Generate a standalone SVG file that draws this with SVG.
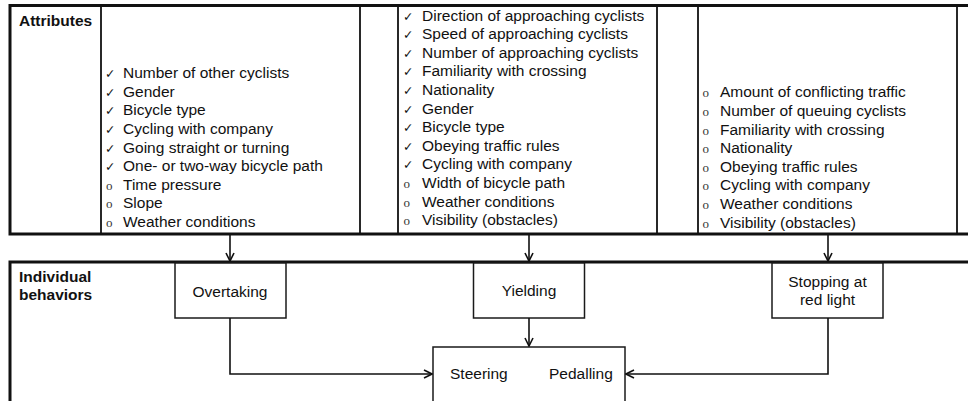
<svg xmlns="http://www.w3.org/2000/svg" width="968" height="401" viewBox="0 0 968 401">
  <style>
    .panel { fill: #ffffff; stroke: #111111; stroke-width: 3; }
    .div { stroke: #111111; stroke-width: 1.8; fill: none; }
    .box { fill: #ffffff; stroke: #1a1a1a; stroke-width: 1.5; }
    .t { font-family: "Liberation Sans", Arial, sans-serif; font-size: 15.5px; fill: #111111; }
    .b { font-family: "Liberation Sans", Arial, sans-serif; font-size: 15.5px; font-weight: bold; fill: #111111; }
    .mid { text-anchor: middle; }
    .chk { font-family: "DejaVu Sans", sans-serif; font-size: 12.5px; fill: #111111; }
    .dot { font-family: "Liberation Serif", "Times New Roman", serif; font-size: 13px; fill: #333333; }
    .conn { fill: none; stroke: #111111; stroke-width: 1.6; }
  </style>
  <defs>
    <marker id="arr" markerWidth="10" markerHeight="10" refX="9" refY="5" orient="auto" markerUnits="userSpaceOnUse">
      <path d="M1,1 L9,5 L1,9" fill="none" stroke="#111111" stroke-width="1.6"/>
    </marker>
  </defs>

  <rect x="0" y="0" width="968" height="401" fill="#ffffff"/>

  <!-- Attributes panel -->
  <g id="attributes">
    <rect class="panel" x="10" y="5.5" width="970" height="228.5"/>
    <line class="div" x1="101" y1="5.5" x2="101" y2="234"/>
    <line class="div" x1="360" y1="5.5" x2="360" y2="234"/>
    <line class="div" x1="398" y1="5.5" x2="398" y2="234"/>
    <line class="div" x1="657" y1="5.5" x2="657" y2="234"/>
    <line class="div" x1="698" y1="5.5" x2="698" y2="234"/>
    <line class="div" x1="957" y1="5.5" x2="957" y2="234"/>
    <text class="b" x="19" y="26">Attributes</text>
  </g>

  <!-- Attributes of overtaking -->
  <g id="attr-overtaking">
    <text class="chk" x="105" y="78.2">✓</text><text class="t" x="123" y="78.2">Number of other cyclists</text>
    <text class="chk" x="105" y="96.8">✓</text><text class="t" x="123" y="96.8">Gender</text>
    <text class="chk" x="105" y="115.4">✓</text><text class="t" x="123" y="115.4">Bicycle type</text>
    <text class="chk" x="105" y="134">✓</text><text class="t" x="123" y="134">Cycling with company</text>
    <text class="chk" x="105" y="152.6">✓</text><text class="t" x="123" y="152.6">Going straight or turning</text>
    <text class="chk" x="105" y="171.2">✓</text><text class="t" x="123" y="171.2">One- or two-way bicycle path</text>
    <text class="dot" x="106" y="189.8">o</text><text class="t" x="123" y="189.8">Time pressure</text>
    <text class="dot" x="106" y="208.4">o</text><text class="t" x="123" y="208.4">Slope</text>
    <text class="dot" x="106" y="227">o</text><text class="t" x="123" y="227">Weather conditions</text>
  </g>

  <!-- Attributes of yielding -->
  <g id="attr-yielding">
    <text class="chk" x="403" y="20.5">✓</text><text class="t" x="422" y="20.5">Direction of approaching cyclists</text>
    <text class="chk" x="403" y="39.1">✓</text><text class="t" x="422" y="39.1">Speed of approaching cyclists</text>
    <text class="chk" x="403" y="57.7">✓</text><text class="t" x="422" y="57.7">Number of approaching cyclists</text>
    <text class="chk" x="403" y="76.3">✓</text><text class="t" x="422" y="76.3">Familiarity with crossing</text>
    <text class="chk" x="403" y="94.9">✓</text><text class="t" x="422" y="94.9">Nationality</text>
    <text class="chk" x="403" y="113.5">✓</text><text class="t" x="422" y="113.5">Gender</text>
    <text class="chk" x="403" y="132.1">✓</text><text class="t" x="422" y="132.1">Bicycle type</text>
    <text class="chk" x="403" y="150.7">✓</text><text class="t" x="422" y="150.7">Obeying traffic rules</text>
    <text class="chk" x="403" y="169.3">✓</text><text class="t" x="422" y="169.3">Cycling with company</text>
    <text class="dot" x="403.5" y="187.9">o</text><text class="t" x="422" y="187.9">Width of bicycle path</text>
    <text class="dot" x="403.5" y="206.5">o</text><text class="t" x="422" y="206.5">Weather conditions</text>
    <text class="dot" x="403.5" y="225.1">o</text><text class="t" x="422" y="225.1">Visibility (obstacles)</text>
  </g>

  <!-- Attributes of stopping at red light -->
  <g id="attr-stopping">
    <text class="dot" x="702.5" y="97.3">o</text><text class="t" x="720" y="97.3">Amount of conflicting traffic</text>
    <text class="dot" x="702.5" y="115.9">o</text><text class="t" x="720" y="115.9">Number of queuing cyclists</text>
    <text class="dot" x="702.5" y="134.5">o</text><text class="t" x="720" y="134.5">Familiarity with crossing</text>
    <text class="dot" x="702.5" y="153.1">o</text><text class="t" x="720" y="153.1">Nationality</text>
    <text class="dot" x="702.5" y="171.7">o</text><text class="t" x="720" y="171.7">Obeying traffic rules</text>
    <text class="dot" x="702.5" y="190.3">o</text><text class="t" x="720" y="190.3">Cycling with company</text>
    <text class="dot" x="702.5" y="208.9">o</text><text class="t" x="720" y="208.9">Weather conditions</text>
    <text class="dot" x="702.5" y="227.5">o</text><text class="t" x="720" y="227.5">Visibility (obstacles)</text>
  </g>

  <!-- Individual behaviors panel -->
  <g id="behaviors">
    <rect class="panel" x="10" y="262" width="970" height="160"/>
    <text class="b" x="19" y="282">Individual</text>
    <text class="b" x="19" y="300">behaviors</text>
  </g>

  <g id="overtaking">
    <rect class="box" x="175" y="263" width="111" height="55"/>
    <text class="t mid" x="230" y="297">Overtaking</text>
  </g>

  <g id="yielding">
    <rect class="box" x="473.5" y="263" width="111" height="55"/>
    <text class="t mid" x="529" y="296">Yielding</text>
  </g>

  <g id="stopping">
    <rect class="box" x="772" y="263" width="111" height="55"/>
    <text class="t mid" x="827.5" y="287">Stopping at</text>
    <text class="t mid" x="827.5" y="305">red light</text>
  </g>

  <g id="steering-pedalling">
    <rect class="box" x="433" y="347" width="192" height="70"/>
    <text class="t" x="450" y="379">Steering</text>
    <text class="t" x="549" y="379">Pedalling</text>
  </g>

  <!-- Connectors -->
  <g id="connectors">
    <line class="conn" x1="230" y1="235" x2="230" y2="261" marker-end="url(#arr)"/>
    <line class="conn" x1="529" y1="235" x2="529" y2="261" marker-end="url(#arr)"/>
    <line class="conn" x1="828" y1="235" x2="828" y2="261" marker-end="url(#arr)"/>
    <polyline class="conn" points="230,318 230,374 432,374" marker-end="url(#arr)"/>
    <line class="conn" x1="529" y1="318" x2="529" y2="346" marker-end="url(#arr)"/>
    <polyline class="conn" points="828,318 828,374 626,374" marker-end="url(#arr)"/>
  </g>
</svg>
